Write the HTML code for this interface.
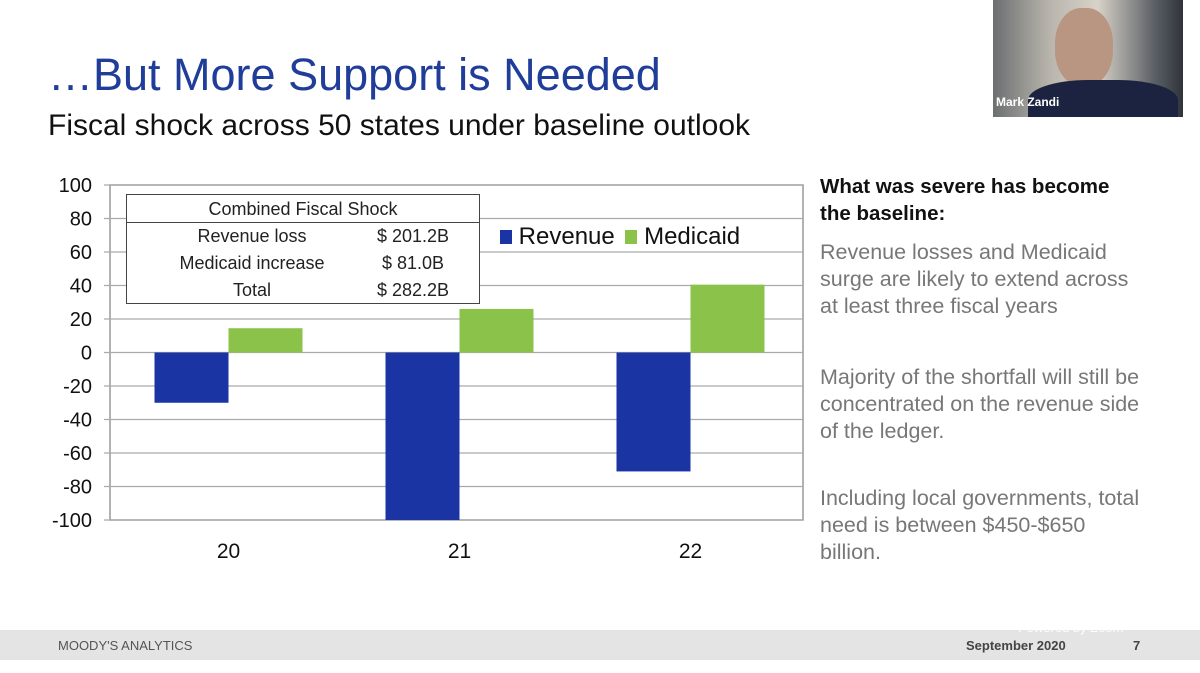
<!DOCTYPE html>
<html><head><meta charset="utf-8">
<style>
body{margin:0;width:1200px;height:673px;background:#fff;font-family:"Liberation Sans",sans-serif;position:relative;overflow:hidden}
.abs{position:absolute}
</style></head><body>
<div class="abs" style="left:48px;top:49px;font-size:45px;color:#1f3d99;white-space:nowrap">…But More Support is Needed</div>
<div class="abs" style="left:48px;top:109px;font-size:30px;color:#111;white-space:nowrap">Fiscal shock across 50 states under baseline outlook</div>

<div class="abs" style="left:993px;top:0;width:190px;height:117px;background:linear-gradient(90deg,#6b6f70 0%,#b9b5ad 30%,#d8d2c8 55%,#5b6066 85%,#30343a 100%);overflow:hidden">
  <div class="abs" style="left:62px;top:8px;width:58px;height:78px;border-radius:45%;background:#b89682"></div>
  <div class="abs" style="left:35px;top:80px;width:150px;height:50px;border-radius:40% 40% 0 0;background:#1c2340"></div>
  <div class="abs" style="left:3px;top:95px;font-size:12px;font-weight:bold;color:#fff">Mark Zandi</div>
</div>

<svg class="abs" style="left:0;top:0" width="1200" height="673">
<g id="chart"></g>
</svg>

<div class="abs" style="left:126px;top:194px;width:352px;height:108px;border:1.5px solid #444;background:#fff;font-size:18px;color:#222">
  <div style="height:27px;border-bottom:1.5px solid #444;text-align:center;line-height:28px">Combined Fiscal Shock</div>
  <div style="display:flex;line-height:27px"><div style="width:250px;text-align:center">Revenue loss</div><div>$ 201.2B</div></div>
  <div style="display:flex;line-height:27px"><div style="width:250px;text-align:center">Medicaid increase</div><div>&nbsp;$ 81.0B</div></div>
  <div style="display:flex;line-height:27px"><div style="width:250px;text-align:center">Total</div><div>$ 282.2B</div></div>
</div>

<div class="abs" style="left:500px;top:223px;font-size:24px;color:#111;white-space:nowrap">
  <span><span style="display:inline-block;width:12px;height:14px;background:#1a35a3"></span> Revenue</span>
  <span style="margin-left:4px"><span style="display:inline-block;width:12px;height:14px;background:#8bc34a"></span> Medicaid</span>
</div>

<div class="abs" style="left:820px;top:173px;width:332px;font-size:21.5px;line-height:27px;color:#777">
  <div style="color:#111;font-weight:bold;width:320px;font-size:20.5px">What was severe has become the baseline:</div>
  <div style="margin-top:12px">Revenue losses and Medicaid surge are likely to extend across at least three fiscal years</div>
  <div style="margin-top:44px">Majority of the shortfall will still be concentrated on the revenue side of the ledger.</div>
  <div style="margin-top:40px">Including local governments, total need is between $450-$650 billion.</div>
</div>

<div class="abs" style="left:0;top:630px;width:1200px;height:30px;background:#e4e4e4">
  <div class="abs" style="left:58px;top:8px;font-size:13px;color:#555">MOODY'S ANALYTICS</div>
  <div class="abs" style="left:966px;top:8px;font-size:13px;font-weight:bold;color:#444">September 2020</div>
  <div class="abs" style="left:1133px;top:8px;font-size:13px;font-weight:bold;color:#444">7</div>
</div>
<div class="abs" style="left:1018px;top:620px;font-size:13px;color:#fff;opacity:.9">Powered by Zoom</div>

<script>
const categories=["20","21","22"];
const revenue=[-30,-100,-71];
const medicaid=[14.5,26,40.5];
const yTicks=[100,80,60,40,20,0,-20,-40,-60,-80,-100];
const ns="http://www.w3.org/2000/svg";
const g=document.getElementById("chart");
const X0=110,X1=803,Y0=185,Y1=520;
const y=v=>Y0+(100-v)/200*(Y1-Y0);
const band=(X1-X0)/categories.length;
const cx=i=>X0+3+band*(i+0.5);
function mk(t,a){const e=document.createElementNS(ns,t);for(const k in a)e.setAttribute(k,a[k]);g.appendChild(e);return e;}
const frame=mk("rect",{x:X0,y:Y0,width:X1-X0,height:Y1-Y0,fill:"none",stroke:"#999","stroke-width":1.5});


yTicks.forEach(t=>{
  const l=mk("line",{x1:X0-6,x2:X1,y1:y(t),y2:y(t),stroke:"#aaa","stroke-width":1.2});
  
  
  const tx=mk("text",{x:X0-18,y:y(t)+7,"text-anchor":"end","font-size":20,fill:"#111","font-family":"Liberation Sans, sans-serif"});
  tx.textContent=t;
  
  
});
const bw=74;
categories.forEach((c,i)=>{
  const r=revenue[i],m=medicaid[i];
  const rb=mk("rect",{x:cx(i)-bw,y:Math.min(y(0),y(r)),width:bw,height:Math.abs(y(r)-y(0)),fill:"#1a35a3"});
  
  
  const mb=mk("rect",{x:cx(i),y:Math.min(y(0),y(m)),width:bw,height:Math.abs(y(m)-y(0)),fill:"#8bc34a"});
  
  
  const tx=mk("text",{x:cx(i),y:Y1+38,"text-anchor":"middle","font-size":21,fill:"#111","font-family":"Liberation Sans, sans-serif"});
  tx.textContent=c;
  
  
});
</script>
</body></html>
